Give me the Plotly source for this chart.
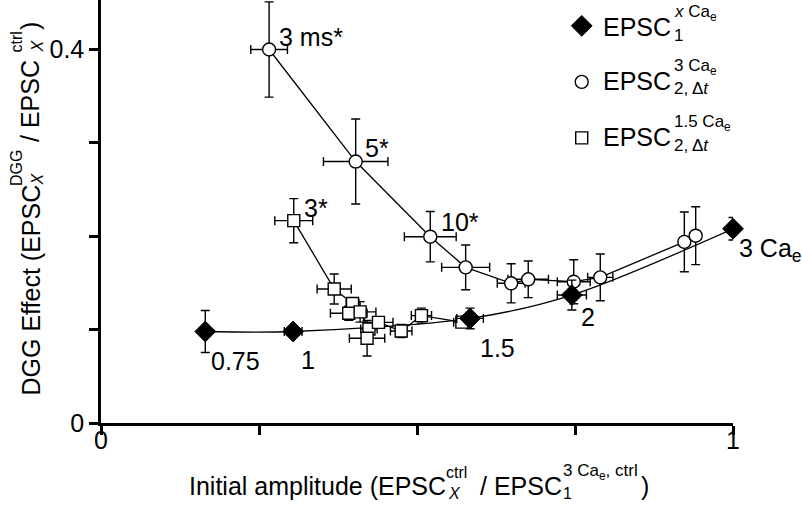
import plotly.graph_objects as go

FONT = "Liberation Sans, Arial, Helvetica, sans-serif"
BIG = 25
SMALL = 16

# EPSC1 at different [Ca]e (filled diamonds)
ca_labels = ["0.75", "1", "1.5", "2", "3 Ca<sub>e</sub>"]
ca_amp = [0.165, 0.304, 0.584, 0.745, 1.0]
ca_amp_err = [0.0, 0.014, 0.021, 0.023, 0.0]
ca_dgg = [0.098, 0.098, 0.112, 0.137, 0.208]
ca_dgg_err = [0.0225, 0.004, 0.011, 0.016, 0.012]

# EPSC2 in 3 Ca_e at increasing intervals (open circles)
c3_labels = ["3 ms*", "5*", "10*"]
c3_amp = [0.266, 0.403, 0.521, 0.577, 0.649, 0.676, 0.748, 0.790, 0.923, 0.941]
c3_amp_err = [0.029, 0.051, 0.041, 0.038, 0.022, 0.032, 0.026, 0.020, 0.0, 0.0]
c3_dgg = [0.400, 0.280, 0.1995, 0.1667, 0.1496, 0.1539, 0.1513, 0.156, 0.194, 0.2006]
c3_dgg_err = [0.051, 0.0455, 0.027, 0.024, 0.021, 0.0196, 0.0236, 0.025, 0.032, 0.031]

# EPSC2 in 1.5 Ca_e at increasing intervals (open squares)
c15_labels = ["3*"]
c15_amp = [0.305, 0.369, 0.398, 0.392, 0.410, 0.424, 0.421, 0.439, 0.475, 0.507, 0.571]
c15_amp_err = [0.030, 0.027, 0.010, 0.029, 0.025, 0.013, 0.028, 0.023, 0.017, 0.016, 0.013]
c15_dgg = [0.2167, 0.1435, 0.128, 0.1175, 0.119, 0.1007, 0.0907, 0.1078, 0.0985, 0.115, 0.108]
c15_dgg_err = [0.0236, 0.016, 0.005, 0.0075, 0.011, 0.005, 0.019, 0.006, 0.007, 0.008, 0.005]

x_ticks = [0, 0.25, 0.5, 0.75, 1]
x_ticktext = ["0", "", "", "", "1"]
y_ticks = [0, 0.1, 0.2, 0.3, 0.4]
y_ticktext = ["0", "", "", "", "0.4"]

# plot area in pixels
L, T, PW, PH = 101, 0, 632, 423


def px(x, y):
    return (x - L) / PW, (T + PH - y) / PH


def err(arr):
    return dict(type="data", array=arr, visible=True, color="black",
                thickness=1.4, width=4.5)


fig = go.Figure()

# connecting lines
fig.add_trace(go.Scatter(x=ca_amp, y=ca_dgg, mode="lines", showlegend=False,
                         line=dict(color="black", width=1.3, shape="spline", smoothing=0.9)))
fig.add_trace(go.Scatter(x=c3_amp, y=c3_dgg, mode="lines", showlegend=False,
                         line=dict(color="black", width=1.3)))
fig.add_trace(go.Scatter(x=c15_amp, y=c15_dgg, mode="lines", showlegend=False,
                         line=dict(color="black", width=1.3)))

# markers with error bars
fig.add_trace(go.Scatter(
    x=c15_amp, y=c15_dgg, mode="markers", name=" ", legendgroup="c15", legendrank=3,
    error_x=err(c15_amp_err), error_y=err(c15_dgg_err),
    marker=dict(symbol="square", size=12, color="white", line=dict(color="black", width=1.4)),
))
fig.add_trace(go.Scatter(
    x=c3_amp, y=c3_dgg, mode="markers", name=" ", legendgroup="c3", legendrank=2,
    error_x=err(c3_amp_err), error_y=err(c3_dgg_err),
    marker=dict(symbol="circle", size=13, color="white", line=dict(color="black", width=1.4)),
))
fig.add_trace(go.Scatter(
    x=ca_amp, y=ca_dgg, mode="markers", name=" ", legendgroup="ca", legendrank=1,
    error_x=err(ca_amp_err), error_y=err(ca_dgg_err),
    marker=dict(symbol="diamond", size=16, color="black", line=dict(color="black", width=1)),
))
fig.update_traces(cliponaxis=False)

ann = []


def point_label(text, x, y, dx, dy):
    ann.append(dict(x=x, y=y, xref="x", yref="y", text=text, showarrow=False,
                    xanchor="left", yanchor="middle", xshift=dx, yshift=dy,
                    font=dict(size=BIG)))


for lab, x, y, (dx, dy) in zip(ca_labels, ca_amp, ca_dgg,
                               [(4, -30), (6, -29), (8, -30), (7, -22), (4, -21)]):
    point_label(lab, x, y, dx, dy)
for lab, x, y, (dx, dy) in zip(c3_labels, c3_amp, c3_dgg, [(8, 12), (7, 14), (9, 15)]):
    point_label(lab, x, y, dx, dy)
for lab, x, y, (dx, dy) in zip(c15_labels, c15_amp, c15_dgg, [(8, 13)]):
    point_label(lab, x, y, dx, dy)

# x tick labels sit close to the tick marks, so draw them as annotations
for v, t in zip(x_ticks, x_ticktext):
    if t:
        ann.append(dict(x=v, y=0, xref="x", yref="paper", text=t, showarrow=False,
                        xanchor="center", yanchor="middle", yshift=-17,
                        font=dict(size=BIG)))


def text_px(text, x, y, size, xanchor="left", yanchor="middle", angle=0):
    xp, yp = px(x, y)
    ann.append(dict(x=xp, y=yp, xref="paper", yref="paper", text=text, showarrow=False,
                    xanchor=xanchor, yanchor=yanchor, textangle=angle,
                    font=dict(size=size)))


# legend text with stacked super/subscripts
legend_rows = [
    ("<i>x</i> Ca<sub>e</sub>", "1", 27),
    ("3 Ca<sub>e</sub>", "2, Δ<i>t</i>", 81),
    ("1.5 Ca<sub>e</sub>", "2, Δ<i>t</i>", 137),
]
for sup, sub, yc in legend_rows:
    text_px("EPSC", 601, yc, BIG)
    text_px(sup, 672, yc - 14, 17)
    text_px(sub, 672, yc + 8, 17)

# x-axis title
xc = 486
text_px("Initial amplitude (EPSC", 187, xc, BIG)
text_px("ctrl", 444, xc - 14, SMALL)
text_px("<i>X</i>", 446, xc + 7, SMALL)
text_px("/ EPSC", 478, xc, BIG)
text_px("3 Ca<sub>e</sub>, ctrl", 561, xc - 14, 17)
text_px("1", 561, xc + 7, SMALL)
text_px(")", 639, xc, BIG)

# y-axis title (rotated, reading upwards)
yc = 30
text_px("DGG Effect (EPSC", yc, 398, BIG, "center", "bottom", -90)
text_px("DGG", yc - 14, 188, SMALL, "center", "bottom", -90)
text_px("<i>X</i>", yc + 7, 188, SMALL, "center", "bottom", -90)
text_px("/ EPSC", yc, 144, BIG, "center", "bottom", -90)
text_px("ctrl", yc - 14, 55, SMALL, "center", "bottom", -90)
text_px("<i>X</i>", yc + 7, 55, SMALL, "center", "bottom", -90)
text_px(")", yc, 32, BIG, "center", "bottom", -90)

axis = dict(showline=True, linecolor="black", linewidth=2.5, ticks="outside",
            ticklen=9, tickwidth=2.5, tickcolor="black", showgrid=False,
            zeroline=False, tickfont=dict(size=BIG, color="black"))

fig.update_layout(
    width=802, height=507,
    margin=dict(l=L, r=802 - L - PW, t=T, b=507 - T - PH),
    paper_bgcolor="white", plot_bgcolor="white",
    font=dict(family=FONT, color="black", size=BIG),
    xaxis=dict(range=[0, 1], tickvals=x_ticks, showticklabels=False, **axis),
    yaxis=dict(range=[0, 0.453], tickvals=y_ticks, ticktext=y_ticktext, **axis),
    legend=dict(x=0.729, y=0.985, xanchor="left", yanchor="top",
                traceorder="grouped", tracegroupgap=27,
                font=dict(size=20), bgcolor="rgba(0,0,0,0)"),
    annotations=ann,
)

# the page body has a default 8px margin; drop it so the figure sits at 0,0
fig.write_html("out.html", config={"displayModeBar": False},
               post_script="document.body.style.margin='0';")
